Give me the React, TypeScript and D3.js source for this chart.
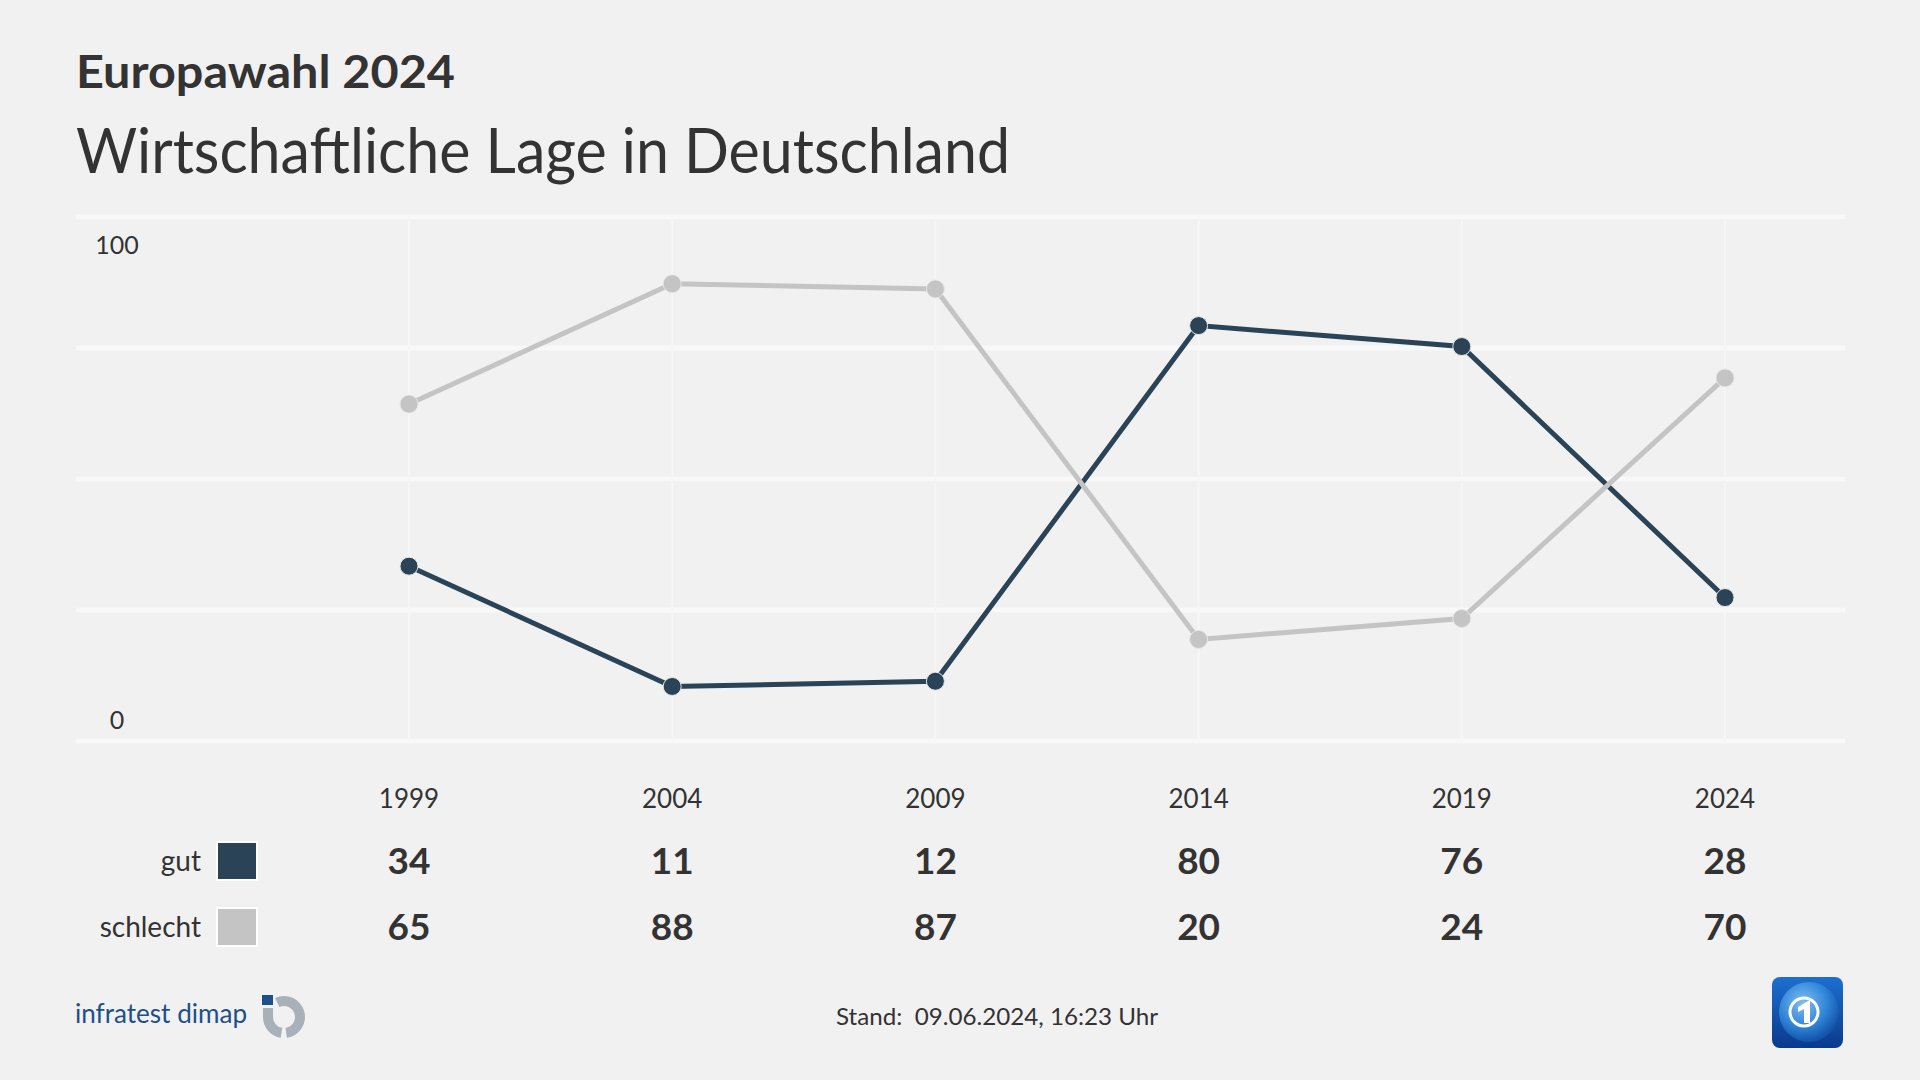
import React from "react";
import * as d3 from "d3";

const years = ["1999", "2004", "2009", "2014", "2019", "2024"];
const gut = [34, 11, 12, 80, 76, 28];
const schlecht = [65, 88, 87, 20, 24, 70];
const seriesNames = ["gut", "schlecht"];
const seriesColors = ["#2a4357", "#c4c4c4"];
const yTicks = [0, 25, 50, 75, 100];
const yLabelTicks = [0, 100];

const W = 1920;
const H = 1080;
const FONT = "Lato, 'Open Sans', sans-serif";
const deg = Math.PI / 180;

export default function App() {
  const x = d3.scalePoint<string>().domain(years).range([409, 1725]);
  const y = d3.scaleLinear().domain([0, 100]).range([744, 221]);
  const yGrid = d3.scaleLinear().domain([0, 100]).range([741, 217]);
  const series = [gut, schlecht];
  const line = d3
    .line<number>()
    .x((_, i) => x(years[i]) as number)
    .y((d) => y(d));

  const arcGen = d3.arc();
  const ringA = arcGen({ innerRadius: 11, outerRadius: 21, startAngle: -25 * deg, endAngle: 172 * deg } as any) as string;
  const ringB = arcGen({ innerRadius: 11, outerRadius: 21, startAngle: 189 * deg, endAngle: 270 * deg } as any) as string;

  return (
    <div style={{ position: "fixed", left: 0, top: 0, width: W, height: H }}>
      <svg width={W} height={H} style={{ display: "block", background: "#f1f1f1" }}>
        <defs>
          <linearGradient id="ardbg" x1="0" y1="0" x2="0" y2="1">
            <stop offset="0" stopColor="#1d6fd0" />
            <stop offset="1" stopColor="#0a3a8c" />
          </linearGradient>
          <radialGradient id="globe" cx="0.4" cy="0.35" r="0.7">
            <stop offset="0" stopColor="#8cc8f5" />
            <stop offset="0.6" stopColor="#2f86da" />
            <stop offset="1" stopColor="#0d4aa0" />
          </radialGradient>
        </defs>
        <rect width={W} height={H} fill="#f1f1f1" />

        {/* Titles */}
        <text x={76} y={88} fontFamily={FONT} fontWeight={700} fontSize={46} fill="#333" textLength={379} lengthAdjust="spacingAndGlyphs">
          Europawahl 2024
        </text>
        <text x={76} y={173} fontFamily={FONT} fontWeight={400} fontSize={62} fill="#333" textLength={934} lengthAdjust="spacingAndGlyphs">
          Wirtschaftliche Lage in Deutschland
        </text>

        {/* Grid */}
        {yTicks.map((t) => (
          <line key={"h" + t} x1={76} x2={1845} y1={yGrid(t)} y2={yGrid(t)} stroke="#f8f8f8" strokeWidth={5} />
        ))}
        {years.map((yr) => (
          <line key={"v" + yr} x1={x(yr)} x2={x(yr)} y1={yGrid(100)} y2={yGrid(0)} stroke="#f6f6f6" strokeWidth={2} />
        ))}
        {yLabelTicks.map((t) => (
          <text
            key={"yl" + t}
            x={117}
            y={t === 100 ? yGrid(t) + 37 : yGrid(t) - 12}
            textAnchor="middle"
            fontFamily={FONT}
            fontSize={25}
            fill="#333"
          >
            {t}
          </text>
        ))}

        {/* Lines */}
        {series.map((s, si) => (
          <g key={"s" + si}>
            <path d={line(s) as string} fill="none" stroke={seriesColors[si]} strokeWidth={5} />
            {s.map((v, i) => (
              <circle key={i} cx={x(years[i])} cy={y(v)} r={9} fill={seriesColors[si]} stroke="#e6e6e6" strokeWidth={1} />
            ))}
          </g>
        ))}

        {/* Year labels */}
        {years.map((yr) => (
          <text key={"yr" + yr} x={x(yr)} y={808} textAnchor="middle" fontFamily={FONT} fontSize={26} fill="#333">
            {yr}
          </text>
        ))}

        {/* Table rows */}
        {series.map((s, si) => {
          const rowY = 861 + si * 66;
          return (
            <g key={"row" + si}>
              <text x={201} y={rowY + 10} textAnchor="end" fontFamily={FONT} fontSize={28} fill="#333">
                {seriesNames[si]}
              </text>
              <rect x={217} y={rowY - 19} width={40} height={38} fill={seriesColors[si]} stroke="#ffffff" strokeWidth={2} />
              {s.map((v, i) => (
                <text key={i} x={x(years[i])} y={rowY + 13} textAnchor="middle" fontFamily={FONT} fontWeight={700} fontSize={37} fill="#333">
                  {v}
                </text>
              ))}
            </g>
          );
        })}

        {/* Footer */}
        <text x={75} y={1023} fontFamily={FONT} fontSize={27} fill="#1d4f8b" textLength={172} lengthAdjust="spacingAndGlyphs">
          infratest dimap
        </text>
        <g transform="translate(284,1017)">
          <path d={ringA} fill="#a8b0b9" />
          <path d={ringB} fill="#a8b0b9" />
          <rect x={-21} y={-9} width={10} height={10} fill="#a8b0b9" />
          <rect x={-22} y={-22} width={11} height={10} fill="#1d4f8b" />
        </g>
        <text x={836} y={1025} fontFamily={FONT} fontSize={24} fill="#333" textLength={322} lengthAdjust="spacingAndGlyphs" style={{ whiteSpace: "pre" }}>
          {"Stand:  09.06.2024, 16:23 Uhr"}
        </text>

        {/* ARD logo */}
        <g>
          <rect x={1772} y={977} width={71} height={71} rx={8} fill="url(#ardbg)" />
          <circle cx={1809} cy={1012} r={30} fill="url(#globe)" opacity={0.9} />
          <circle cx={1804} cy={1012} r={14} fill="none" stroke="#ffffff" strokeWidth={3} />
          <path d="M1798,1007 L1808,1001 L1810,1001 L1810,1023 L1804,1023 L1804,1009 L1798,1012 Z" fill="#ffffff" />
        </g>
      </svg>
    </div>
  );
}
